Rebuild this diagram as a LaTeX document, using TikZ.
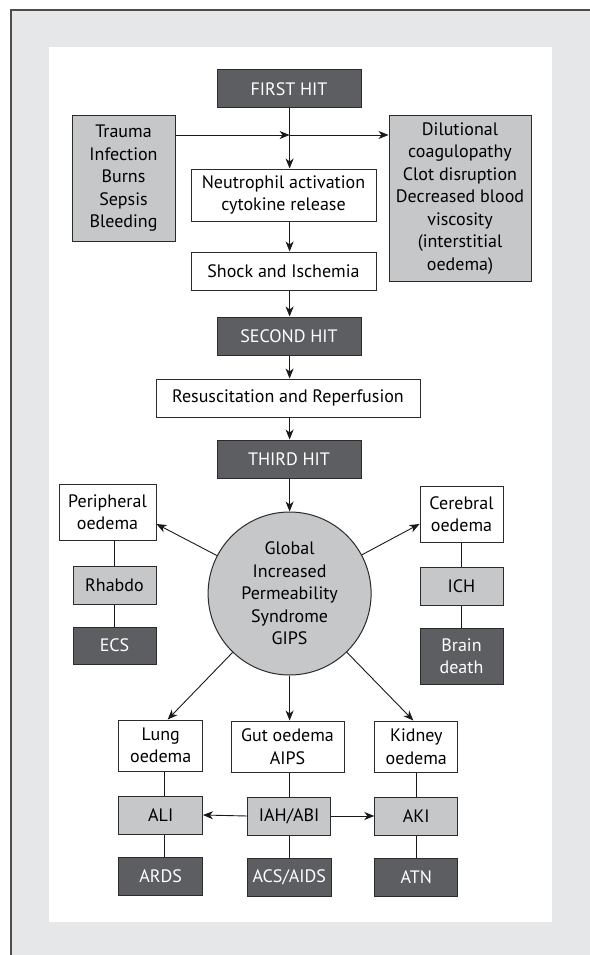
\documentclass[tikz,border=0pt]{standalone}
\usepackage{fontspec}
\setmainfont{PT Sans}
\usetikzlibrary{arrows.meta,calc}
\definecolor{bggray}{HTML}{E6E7E8}
\definecolor{darkbox}{HTML}{5D5E61}
\definecolor{lightbox}{HTML}{C6C7C9}
\definecolor{framecol}{HTML}{4D4D4D}
\definecolor{edgecol}{HTML}{2B2B2B}
\tikzset{
  basebox/.style={rectangle, draw=edgecol, line width=1pt, inner sep=0pt, align=center,
    font=\fontsize{18}{22.5}\selectfont, text=black},
  whitebox/.style={basebox, fill=white},
  greybox/.style={basebox, fill=lightbox},
  hitbox/.style={basebox, fill=darkbox, text=white},
  arr/.style={line width=0.9pt, black!90, -{Stealth[length=10pt,width=8pt,inset=3pt]}},
  link/.style={line width=0.9pt, black!90},
}
\begin{document}
\begin{tikzpicture}[x=1pt,y=-1pt]
\useasboundingbox (0,0) rectangle (589,955);
% frame
\fill[bggray] (11,10) rectangle (590,956);
\draw[framecol, line width=1.2pt] (11,956) -- (11,10) -- (590,10);
\fill[white] (49,47) rectangle (552,922);

% top chain
\node[hitbox, minimum width=144pt, minimum height=38pt] (first) at (289,89) {FIRST HIT};
\node[greybox, minimum width=103pt, minimum height=125pt] (trauma) at (123.5,178.5) {Trauma\\Infection\\Burns\\Sepsis\\Bleeding};
\node[greybox, minimum width=142pt, minimum height=165pt] (dil) at (460,198.5) {Dilutional\\coagulopathy\\Clot disruption\\Decreased blood\\viscosity\\(interstitial\\oedema)};
\node[whitebox, minimum width=185pt, minimum height=52pt] (neut) at (283.5,195) {Neutrophil activation\\cytokine release};
\node[whitebox, minimum width=185pt, minimum height=38pt] (shock) at (283.5,271) {Shock and Ischemia};
\node[hitbox, minimum width=144pt, minimum height=38pt] (second) at (289,336) {SECOND HIT};
\node[whitebox, minimum width=264pt, minimum height=38pt] (resus) at (288,398) {Resuscitation and Reperfusion};
\node[hitbox, minimum width=144pt, minimum height=38pt] (third) at (289,459) {THIRD HIT};

% circle
\node[circle, draw=edgecol, line width=1pt, fill=lightbox, minimum size=163pt, inner sep=0pt, align=center,
  font=\fontsize{18}{22.5}\selectfont, text=black] (gips) at (289.6,593.5)
  {Global\\Increased\\Permeability\\Syndrome\\GIPS};

% sides
\node[whitebox, minimum width=97pt, minimum height=56pt] (periph) at (107.5,512) {Peripheral\\oedema};
\node[greybox, minimum width=83pt, minimum height=38pt] (rhabdo) at (114.5,585) {Rhabdo};
\node[hitbox, minimum width=83pt, minimum height=37pt] (ecs) at (114.5,645.5) {ECS};
\node[whitebox, minimum width=83pt, minimum height=56pt] (cereb) at (461.5,514) {Cerebral\\oedema};
\node[greybox, minimum width=83pt, minimum height=38pt] (ich) at (461.5,586) {ICH};
\node[hitbox, minimum width=83pt, minimum height=56pt] (brain) at (461.5,656) {Brain\\death};

% bottom
\node[whitebox, minimum width=83.5pt, minimum height=51pt] (lung) at (160.7,745.5) {Lung\\oedema};
\node[whitebox, minimum width=113pt, minimum height=51pt] (gut) at (287.5,746.5) {Gut oedema\\AIPS};
\node[whitebox, minimum width=83pt, minimum height=51pt] (kid) at (416.3,746.5) {Kidney\\oedema};
\node[greybox, minimum width=83.5pt, minimum height=38pt] (ali) at (160.7,815) {ALI};
\node[greybox, minimum width=83pt, minimum height=38pt] (iah) at (289.2,816) {IAH/ABI};
\node[greybox, minimum width=83pt, minimum height=38pt] (aki) at (416.3,816) {AKI};
\node[hitbox, minimum width=83.5pt, minimum height=38pt] (ards) at (160.7,876) {ARDS};
\node[hitbox, minimum width=83.5pt, minimum height=38pt] (acs) at (289.3,877) {ACS/AIDS};
\node[hitbox, minimum width=83pt, minimum height=38pt] (atn) at (416.3,877) {ATN};

% main axis
\coordinate (ax) at (289.6,135);
\draw[arr] ([xshift=0.6pt]first.south) -- (ax |- neut.north);
\draw[arr] (trauma.east |- ax) -- (ax);
\draw[arr] (ax) -- (dil.west |- ax);
\draw[arr] (ax |- neut.south) -- (ax |- shock.north);
\draw[arr] (ax |- shock.south) -- (ax |- second.north);
\draw[arr] (ax |- second.south) -- (ax |- resus.north);
\draw[arr] (ax |- resus.south) -- (ax |- third.north);
\draw[arr] (ax |- third.south) -- (gips.north);

% radial arrows
\draw[arr] (gips) -- ([yshift=-12pt]periph.east);
\draw[arr] (gips) -- ([yshift=-10pt]cereb.west);
\draw[arr] (gips) -- ([xshift=7pt]lung.north);
\draw[arr] (gips.south) -- (gips.south |- gut.north);
\draw[arr] (gips) -- ([xshift=-3pt]kid.north);

% side links
\draw[link] (rhabdo.north |- periph.south) -- (rhabdo.north);
\draw[link] (rhabdo.south) -- (ecs.north);
\draw[link] (cereb.south) -- (ich.north);
\draw[link] (ich.south) -- (brain.north);

% bottom links
\draw[link] ([xshift=3.5pt]lung.south) -- ([xshift=3.5pt]ali.north);
\draw[link] ([xshift=3.5pt]ali.south) -- ([xshift=3.5pt]ards.north);
\draw[link] (iah.north |- gut.south) -- (iah.north);
\draw[link] (iah.south) -- (acs.north -| iah.south);
\draw[link] (kid.south) -- (aki.north);
\draw[link] (aki.south) -- (atn.north);
\draw[arr] (iah.west) -- (ali.east);
\draw[arr] (iah.east) -- (aki.west);
\end{tikzpicture}
\end{document}
